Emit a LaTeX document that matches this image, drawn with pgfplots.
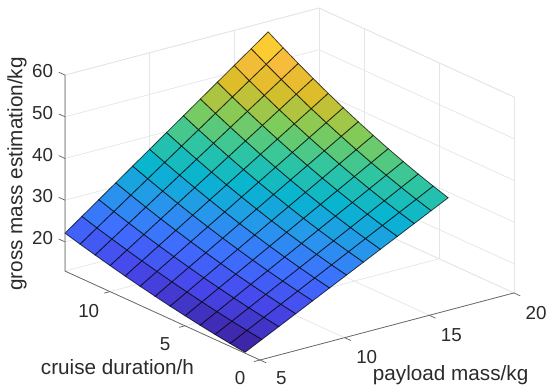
\documentclass[border=0pt]{standalone}
\usepackage{fontspec}
\setmainfont{Liberation Sans}
\usepackage{pgfplots}
\usepackage{pgfplotstable}
\pgfplotsset{compat=1.18}
\definecolor{axgray}{gray}{0.38}
\definecolor{txtgray}{gray}{0.17}
\definecolor{gridgray}{gray}{0.9}
\pgfplotstableread{
p c z
5 1 13.20
6 1 15.22
7 1 17.23
8 1 19.25
9 1 21.27
10 1 23.29
11 1 25.30
12 1 27.32
13 1 29.34
14 1 31.35
15 1 33.37
16 1 35.39
17 1 37.40
5 2 13.68
6 2 15.75
7 2 17.83
8 2 19.90
9 2 21.98
10 2 24.05
11 2 26.12
12 2 28.20
13 2 30.27
14 2 32.35
15 2 34.42
16 2 36.49
17 2 38.57
5 3 14.21
6 3 16.35
7 3 18.48
8 3 20.62
9 3 22.75
10 3 24.89
11 3 27.02
12 3 29.16
13 3 31.29
14 3 33.43
15 3 35.56
16 3 37.70
17 3 39.83
5 4 14.79
6 4 16.99
7 4 19.19
8 4 21.39
9 4 23.59
10 4 25.79
11 4 27.99
12 4 30.19
13 4 32.39
14 4 34.59
15 4 36.79
16 4 38.99
17 4 41.19
5 5 15.41
6 5 17.68
7 5 19.95
8 5 22.21
9 5 24.48
10 5 26.75
11 5 29.02
12 5 31.29
13 5 33.55
14 5 35.82
15 5 38.09
16 5 40.36
17 5 42.63
5 6 16.08
6 6 18.42
7 6 20.76
8 6 23.10
9 6 25.44
10 6 27.79
11 6 30.13
12 6 32.47
13 6 34.81
14 6 37.15
15 6 39.49
16 6 41.83
17 6 44.17
5 7 16.80
6 7 19.22
7 7 21.63
8 7 24.05
9 7 26.47
10 7 28.89
11 7 31.30
12 7 33.72
13 7 36.14
14 7 38.55
15 7 40.97
16 7 43.39
17 7 45.80
5 8 17.57
6 8 20.07
7 8 22.56
8 8 25.06
9 8 27.55
10 8 30.05
11 8 32.55
12 8 35.04
13 8 37.54
14 8 40.03
15 8 42.53
16 8 45.03
17 8 47.52
5 9 18.38
6 9 20.96
7 9 23.54
8 9 26.12
9 9 28.70
10 9 31.28
11 9 33.85
12 9 36.43
13 9 39.01
14 9 41.59
15 9 44.17
16 9 46.75
17 9 49.33
5 10 19.24
6 10 21.91
7 10 24.57
8 10 27.24
9 10 29.91
10 10 32.58
11 10 35.24
12 10 37.91
13 10 40.58
14 10 43.24
15 10 45.91
16 10 48.58
17 10 51.24
5 11 20.15
6 11 22.91
7 11 25.66
8 11 28.42
9 11 31.18
10 11 33.94
11 11 36.69
12 11 39.45
13 11 42.21
14 11 44.96
15 11 47.72
16 11 50.48
17 11 53.23
5 12 21.10
6 12 23.95
7 12 26.80
8 12 29.66
9 12 32.51
10 12 35.36
11 12 38.21
12 12 41.06
13 12 43.92
14 12 46.77
15 12 49.62
16 12 52.47
17 12 55.32
5 13 22.10
6 13 25.05
7 13 28.00
8 13 30.95
9 13 33.90
10 13 36.85
11 13 39.80
12 13 42.75
13 13 45.70
14 13 48.65
15 13 51.60
16 13 54.55
17 13 57.50
}\surfdata
\begin{document}
\begin{tikzpicture}
\begin{axis}[
  at={(65pt,31pt)}, anchor=south west,
  x={(16.93pt,4.47pt)}, y={(-15pt,6.84pt)}, z={(0pt,4.17pt)},
  xmin=5, xmax=20, ymin=0, ymax=13, zmin=13, zmax=60,
  xtick={5,10,15,20}, ytick={0,5,10}, ztick={20,30,40,50,60},
  grid=major,
  grid style={gridgray, line width=0.7pt},
  axis line style={gridgray, line width=0.7pt},
  tick align=outside,
  major tick length=6pt,
  major tick style={draw=none},
  ticklabel style={font=\fontsize{18.8}{20}\selectfont, text=txtgray},
  xticklabel style={xshift=9pt, yshift=-5.5pt},
  yticklabel style={xshift=-6pt, yshift=-6pt},
  zticklabel style={xshift=-3pt},
  /pgf/number format/assume math mode=true,
  clip=false,
  xlabel={payload mass/kg}, ylabel={cruise duration/h}, zlabel={gross mass estimation/kg},
  label style={font=\fontsize{20.7}{22}\selectfont, text=txtgray},
  every axis x label/.append style={at={(axis cs:10.9,-6.05,13)}, anchor=center},
  every axis y label/.append style={at={(axis cs:-0.9,2.84,13)}, anchor=center},
  every axis z label/.append style={at={(axis cs:5,16.2,31.03)}, anchor=center},
  point meta min=13.2, point meta max=56,
  colormap={parula}{rgb=(.2422,.1504,.6603) rgb=(.2803,.2782,.9221) rgb=(.2440,.4358,.9988)
    rgb=(.1540,.5902,.9218) rgb=(.0297,.7082,.8163) rgb=(.1938,.7758,.6251)
    rgb=(.5044,.7993,.3480) rgb=(.8634,.7406,.1596) rgb=(.9892,.7372,.2440) rgb=(.9763,.9831,.0538)},
]
\addplot3[surf, shader=flat corner, draw=black, draw opacity=0.7, line width=0.8pt,
  mesh/rows=13, mesh/cols=13, mesh/ordering=x varies, z buffer=none]
  table[x=p,y=c,z=z] {\surfdata};
\draw[axgray, line width=0.7pt] (axis cs:5,13,60) -- (axis cs:5,13,13) -- (axis cs:5,0,13) -- (axis cs:20,0,13);
\foreach \v in {5,10,15,20} {\edef\tmp{\noexpand\draw[axgray, line width=0.7pt] (axis cs:\v,0,13) -- (axis cs:\v,-0.42,13);}\tmp}
\foreach \v in {0,5,10} {\edef\tmp{\noexpand\draw[axgray, line width=0.7pt] (axis cs:5,\v,13) -- (axis cs:4.65,\v,13);}\tmp}
\foreach \v in {20,30,40,50,60} {\edef\tmp{\noexpand\draw[axgray, line width=0.7pt] (axis cs:5,13,\v) -- (axis cs:5,13.42,\v);}\tmp}
\end{axis}
\pgfresetboundingbox
\useasboundingbox (0,0) rectangle (550pt,391pt);
\end{tikzpicture}
\end{document}
